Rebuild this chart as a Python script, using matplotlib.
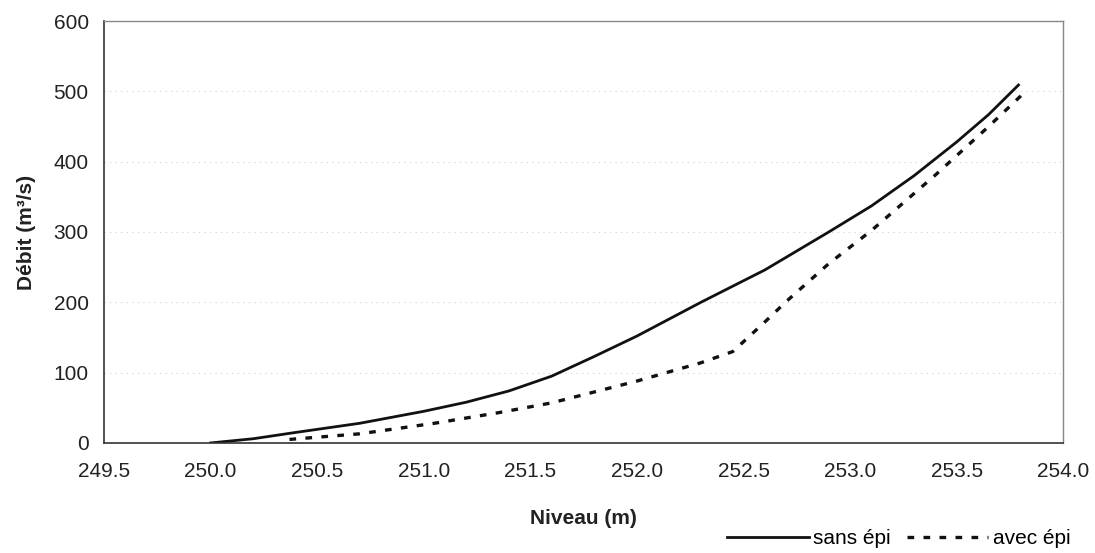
import matplotlib
matplotlib.use("Agg")
import matplotlib.pyplot as plt

plt.rcParams['font.family'] = ['Liberation Sans', 'DejaVu Sans']

# Data
niveau_sans = [250.0, 250.2, 250.4, 250.7, 251.0, 251.2, 251.4, 251.6, 251.8, 252.0, 252.3, 252.6, 252.9, 253.1, 253.3, 253.5, 253.65, 253.79]
debit_sans = [0, 6, 15, 28, 45, 58, 74, 95, 123, 152, 200, 246, 300, 337, 380, 428, 467, 509]

niveau_avec = [250.37, 250.7, 251.05, 251.35, 251.6, 252.0, 252.3, 252.45, 252.6, 252.7, 252.9, 253.1, 253.4, 253.65, 253.82]
debit_avec = [5, 13, 28, 43, 57, 88, 114, 130, 172, 201, 255, 302, 381, 450, 499]

xticks = [249.5, 250.0, 250.5, 251.0, 251.5, 252.0, 252.5, 253.0, 253.5, 254.0]
yticks = [0, 100, 200, 300, 400, 500, 600]

fig = plt.figure(figsize=(10.95, 5.53), dpi=100)
ax = fig.add_axes([0.095, 0.199, 0.876, 0.763])

l1, = ax.plot(niveau_sans, debit_sans, color='#111111', lw=2.0, label='sans épi')
l2, = ax.plot(niveau_avec, debit_avec, color='#111111', lw=2.4, dashes=(2.0, 2.8), label='avec épi')

ax.set_xlim(249.5, 254.0)
ax.set_ylim(0, 600)
ax.set_xticks(xticks)
ax.set_xticklabels([f"{v:.1f}" for v in xticks])
ax.set_yticks(yticks)
ax.tick_params(axis='both', length=0, labelsize=15, colors='#222222')
ax.tick_params(axis='x', pad=14)
ax.tick_params(axis='y', pad=11)

ax.grid(axis='y', color='#cfcfcf', lw=0.8, linestyle=(0, (1, 4)))
ax.set_axisbelow(True)

for s in ['left', 'bottom']:
    ax.spines[s].set_color('#333333')
    ax.spines[s].set_linewidth(1.2)
for s in ['top', 'right']:
    ax.spines[s].set_color('#888888')
    ax.spines[s].set_linewidth(1.0)
    ax.spines[s].set_linestyle((0, (2, 1)))

ax.set_xlabel('Niveau (m)', fontsize=15, fontweight='bold', labelpad=20, color='#222222')
ax.set_ylabel('Débit (m³/s)', fontsize=15, fontweight='bold', labelpad=13, color='#222222')

fig.legend(handles=[l1, l2], loc='center right', bbox_to_anchor=(0.985, 0.026),
           ncol=2, frameon=False, fontsize=15, handlelength=3.9,
           handletextpad=0.2, columnspacing=0.8, borderaxespad=0)

fig.savefig('out.png', dpi=100)
